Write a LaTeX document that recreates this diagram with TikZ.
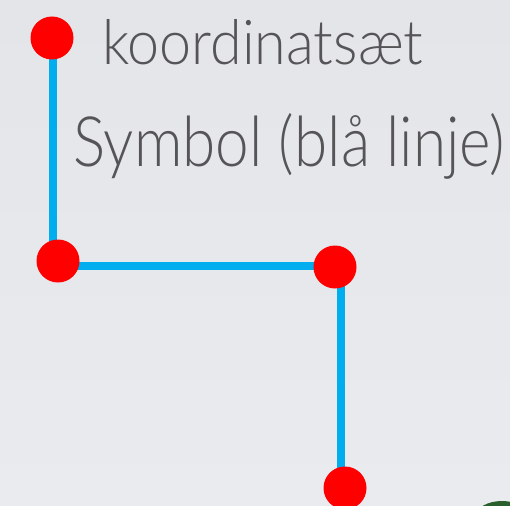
\documentclass[tikz,border=0pt]{standalone}
\usepackage{fontspec}
\setmainfont{Lato Light}
\usepackage{graphicx}
\definecolor{bgtop}{RGB}{228,229,233}
\definecolor{bgbot}{RGB}{234,235,238}
\definecolor{lineblue}{RGB}{0,174,239}
\definecolor{dotred}{RGB}{255,0,0}
\definecolor{txtgray}{RGB}{85,85,88}
\definecolor{leafgreen}{RGB}{40,95,45}
\tikzset{
  dot/.style={circle, fill=dotred, inner sep=0pt, minimum size=43pt},
  route/.style={draw=lineblue, line width=8pt},
  label/.style={inner sep=0pt, text=txtgray, anchor=base west},
}
\begin{document}
\begin{tikzpicture}[x=1pt,y=-1pt]
\useasboundingbox (0,0) rectangle (510,505);
\clip (0,0) rectangle (510,505);
\shade[top color=bgtop, bottom color=bgbot] (0,0) rectangle (510,505);
\fill[leafgreen] (502,516) ellipse [x radius=26, y radius=15];
% route corners
\coordinate (p1) at (53,38);
\coordinate (p2) at (53,266);
\coordinate (p3) at (341,266);
\coordinate (p4) at (341,488);
\draw[route] (p1) -- (p2) -- (p3) -- (p4);
% dots
\node[dot] (d1) at (52,38) {};
\node[dot] (d2) at (58,261) {};
\node[dot] (d3) at (335,267) {};
\node[dot] (d4) at (345,488) {};
% texts
\node[label] (t1) at (102,65) {\resizebox{321pt}{45pt}{koordinatsæt}};
\node[label] (t2) at (73,166) {\resizebox{432pt}{53pt}{Symbol (blå linje)}};
\end{tikzpicture}
\end{document}
